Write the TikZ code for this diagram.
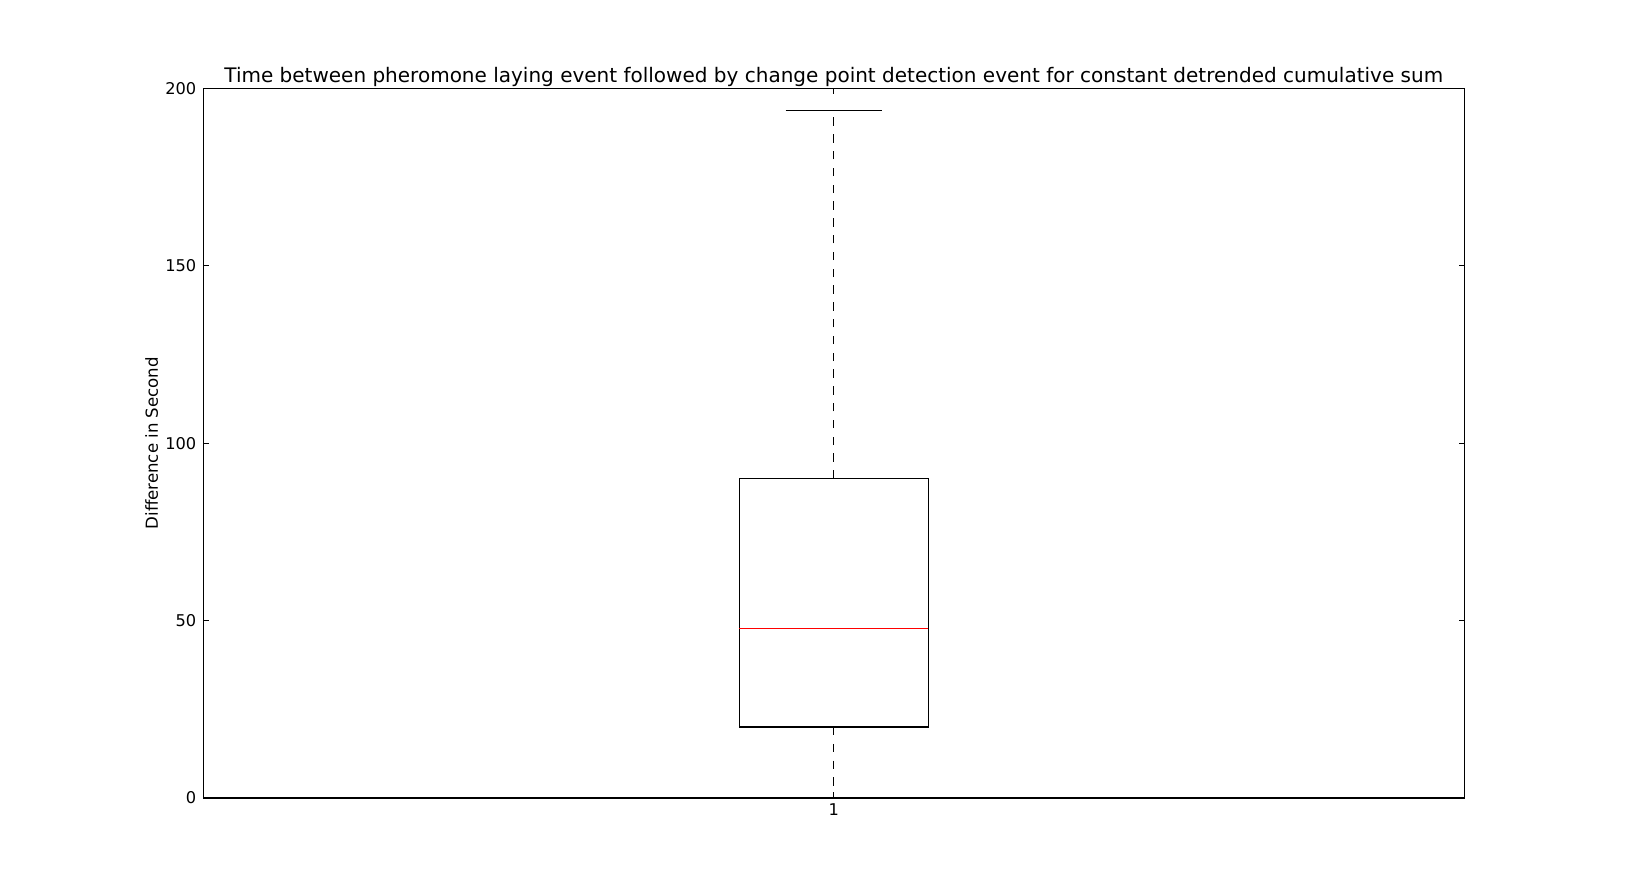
\documentclass[tikz,border=0pt]{standalone}
\usepackage{fontspec}
\setmainfont{DejaVu Sans}
\usetikzlibrary{positioning}

\tikzset{
  frameline/.style={line width=0.6pt},
  tickline/.style={line width=0.5pt},
  boxline/.style={line width=0.55pt},
  whisker/.style={line width=0.55pt, dash pattern=on 4.2pt off 4.2pt},
  medianline/.style={line width=0.55pt, red},
  ticklabel/.style={font=\fontsize{8.1}{10}\selectfont, inner sep=0pt},
}

\begin{document}
\begin{tikzpicture}
\useasboundingbox (0,0) rectangle (813pt,443.5pt);
\begin{scope}[x=0.5pt,y=1.7743pt,yshift=44.5pt]
        % axes frame
        \coordinate (SW) at (203.3,0);
        \coordinate (NE) at (1464.3,200);
        \draw[frameline] (SW) rectangle (NE);
        \foreach \v in {0,50,...,200} {
                \draw[tickline] (203.3,\v) -- ++(5.7,0);
                \draw[tickline] (1464.3,\v) -- ++(-5.7,0);
                \node[ticklabel,anchor=east] at (196.7,\v) (y\v) {\v};
        }
        \draw[tickline] (833.8,0) -- ++(0,1.6);
        \draw[tickline] (833.8,200) -- ++(0,-1.6);
        \node[ticklabel,anchor=north] at (833.8,-1.6) (x1) {1};

        % box and whiskers
        \coordinate (lo) at (833.8,0);
        \coordinate (q1) at (833.8,20);
        \coordinate (q3) at (833.8,90);
        \coordinate (hi) at (833.8,193.8);
        \draw[boxline] (739.3,20) rectangle (928.3,90);
        \draw[medianline] (739.3,47.8) -- (928.3,47.8);
        \draw[whisker] (q3) -- (hi);
        \draw[whisker] (q1) -- (lo);
        \draw[boxline] (785.7,193.8) -- (882,193.8);

        % labels
        \node[ticklabel,font=\fontsize{8.3}{10}\selectfont,rotate=90] at (151.7,100) (ylab) {Difference in Second};
        \node[inner sep=0pt,anchor=base,font=\fontsize{10}{12}\selectfont] at (833.8,201.6) (title)
                {Time between pheromone laying event followed by change point detection event for constant detrended cumulative sum};
\end{scope}
\end{tikzpicture}
\end{document}
